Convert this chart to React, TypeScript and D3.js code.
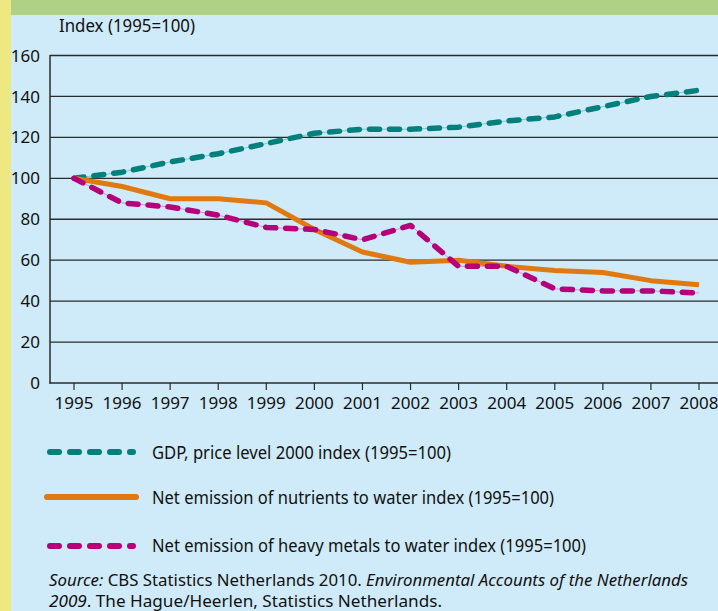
import React from "react";
import * as d3 from "d3";

const years = [1995, 1996, 1997, 1998, 1999, 2000, 2001, 2002, 2003, 2004, 2005, 2006, 2007, 2008];
const gdp = [100, 103, 108, 112, 117, 122, 124, 124, 125, 128, 130, 135, 140, 143];
const nutrients = [100, 96, 90, 90, 88, 75, 64, 59, 60, 57, 55, 54, 50, 48];
const metals = [100, 88, 86, 82, 76, 75, 70, 77, 57, 57, 46, 45, 45, 44];
const yTicks = [0, 20, 40, 60, 80, 100, 120, 140, 160];
const legendLabels = [
  "GDP, price level 2000 index (1995=100)",
  "Net emission of nutrients to water index (1995=100)",
  "Net emission of heavy metals to water index (1995=100)",
];

const W = 718;
const H = 611;
const FONT = "'Liberation Sans Narrow', 'Noto Sans', 'DejaVu Sans', sans-serif";

export default function App() {
  const x = d3.scaleLinear().domain([1995, 2008]).range([74, 699]);
  const y = d3.scaleLinear().domain([0, 160]).range([383, 55.5]);
  const line = d3
    .line<number>()
    .x((_, i) => x(years[i]))
    .y((d) => y(d));

  const series = [
    { values: gdp, color: "#00807a", dashed: true, label: legendLabels[0], ly: 452, ty: 458.5, tw: 299 },
    { values: nutrients, color: "#e07a10", dashed: false, label: legendLabels[1], ly: 497, ty: 503.5, tw: 402 },
    { values: metals, color: "#b5007a", dashed: true, label: legendLabels[2], ly: 546, ty: 552, tw: 434 },
  ];

  return (
    <svg
      width={W}
      height={H}
      style={{ position: "absolute", left: 0, top: 0 }}
      fontFamily={FONT}
    >
      <rect x={0} y={0} width={W} height={H} fill="#cfeaf8" />
      <rect x={0} y={0} width={W} height={15} fill="#afd186" />
      <rect x={0} y={0} width={11} height={H} fill="#ede882" />

      <text x={59} y={32} fontSize={17.5} fill="#111" textLength={136} lengthAdjust="spacingAndGlyphs">
        Index (1995=100)
      </text>

      {yTicks.map((t) => (
        <g key={t}>
          {t > 0 && (
            <line x1={50} x2={W} y1={y(t)} y2={y(t)} stroke="#2b2b2b" strokeWidth={1.3} />
          )}
          <text x={40} y={y(t)} dy="0.36em" textAnchor="end" fontSize={17} fill="#111">
            {t}
          </text>
        </g>
      ))}

      <line x1={50} x2={50} y1={55} y2={383.6} stroke="#2b2b2b" strokeWidth={1.5} />
      <line x1={49.3} x2={W} y1={383} y2={383} stroke="#2b2b2b" strokeWidth={1.5} />

      {years.map((yr) => (
        <g key={yr}>
          <line x1={x(yr)} x2={x(yr)} y1={383} y2={390} stroke="#2b2b2b" strokeWidth={1.2} />
          <text x={x(yr)} y={408.5} textAnchor="middle" fontSize={17} fill="#111">
            {yr}
          </text>
        </g>
      ))}

      {series.map((s, i) => (
        <g key={i}>
          {s.dashed && (
            <path d={line(s.values) || ""} fill="none" stroke={s.color} strokeWidth={1} strokeOpacity={0.35} />
          )}
          <path
            d={line(s.values) || ""}
            fill="none"
            stroke={s.color}
            strokeWidth={s.dashed ? 5.5 : 5}
            strokeDasharray={s.dashed ? "10,10" : undefined}
            strokeLinecap={s.dashed ? "round" : "butt"}
            strokeLinejoin="round"
          />
        </g>
      ))}

      {series.map((s, i) => (
        <g key={"l" + i}>
          <line
            x1={s.dashed ? 50 : 47}
            x2={s.dashed ? 133 : 136}
            y1={s.ly}
            y2={s.ly}
            stroke={s.color}
            strokeWidth={6}
            strokeDasharray={s.dashed ? "9,11" : undefined}
            strokeLinecap="round"
          />
          <text x={152} y={s.ty} fontSize={18.5} fill="#111" textLength={s.tw} lengthAdjust="spacingAndGlyphs">
            {s.label}
          </text>
        </g>
      ))}

      <text x={49} y={586} fontSize={17} fill="#111" textLength={639} lengthAdjust="spacingAndGlyphs">
        <tspan fontStyle="italic">Source:</tspan>
        <tspan> CBS Statistics Netherlands 2010. </tspan>
        <tspan fontStyle="italic">Environmental Accounts of the Netherlands</tspan>
      </text>
      <text x={49} y={607} fontSize={17} fill="#111" textLength={393} lengthAdjust="spacingAndGlyphs">
        <tspan fontStyle="italic">2009</tspan>
        <tspan>. The Hague/Heerlen, Statistics Netherlands.</tspan>
      </text>
    </svg>
  );
}
